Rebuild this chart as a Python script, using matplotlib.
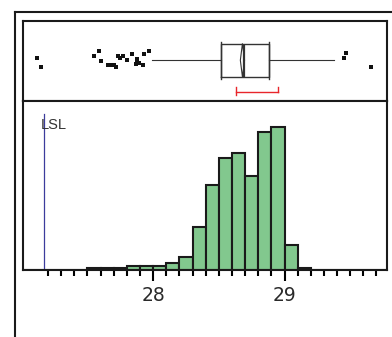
import numpy as np
import matplotlib
matplotlib.use("Agg")
import matplotlib.pyplot as plt
from matplotlib.lines import Line2D

# histogram bins (left edges, width 0.1) and counts
bin_left = [27.0, 27.1, 27.2, 27.3, 27.4, 27.5, 27.6, 27.7, 27.8, 27.9,
            28.0, 28.1, 28.2, 28.3, 28.4, 28.5, 28.6, 28.7, 28.8, 28.9,
            29.0, 29.1, 29.2, 29.3, 29.4, 29.5, 29.6, 29.7]
counts = [0, 1, 0, 0, 1, 4, 4, 4, 8, 8,
          8, 15, 26, 87, 170, 225, 235, 188, 277, 287,
          51, 5, 0, 1, 1, 0, 1, 0]
bin_w = 0.1

# box plot summary
q1, med, q3 = 28.52, 28.69, 28.88
whis_lo, whis_hi = 27.99, 29.38
mean, mean_ci = 28.68, 0.016
short_half = (28.63, 28.95)
lsl = 27.17

# outliers and their vertical jitter
outliers = [27.12, 27.15, 27.55, 27.59, 27.60, 27.66, 27.68, 27.70, 27.72, 27.73,
            27.75, 27.77, 27.80, 27.84, 27.87, 27.88, 27.88, 27.89, 27.92, 27.93,
            27.97, 29.45, 29.47, 29.66]
jitter = [0.542, 0.429, 0.562, 0.629, 0.496, 0.454, 0.454, 0.454, 0.429, 0.562,
          0.533, 0.562, 0.517, 0.588, 0.458, 0.521, 0.488, 0.471, 0.45, 0.588,
          0.629, 0.538, 0.604, 0.429]

major_ticks = [28, 29]
tick_labels = ["28", "29"]

W, H = 392, 337
fig = plt.figure(figsize=(W / 100, H / 100), dpi=100)

x0, x1 = 23, 387
ax_box = fig.add_axes([x0 / W, (H - 101) / H, (x1 - x0) / W, 80 / H])
ax_h = fig.add_axes([x0 / W, (H - 270) / H, (x1 - x0) / W, 169 / H])

xlim = (27.01, 29.78)
green = "#82C88E"

# histogram
ax_h.bar(bin_left, counts, width=bin_w, align="edge", color=green,
         edgecolor="#1a1a1a", linewidth=1.5)
ax_h.set_xlim(*xlim)
ax_h.set_ylim(0, 338)
ax_h.set_yticks([])
ax_h.axvline(lsl, ymin=0, ymax=0.923, color="#3c3c9c", lw=0.9)
ax_h.text(lsl - 0.025, 290, "LSL", fontsize=10.5, color="#333333",
          family=["Liberation Sans", "DejaVu Sans"], va="center", ha="left")

ax_h.set_xticks(major_ticks)
ax_h.set_xticklabels(tick_labels, family=["Liberation Sans Narrow", "DejaVu Sans"],
                     fontsize=13.5, color="#2a2a2a")
ax_h.set_xticks(np.arange(27.2, 29.75, 0.1), minor=True)
ax_h.tick_params(axis="x", which="major", length=8, width=1.5, pad=3.5)
ax_h.tick_params(axis="x", which="minor", length=4.5, width=1.5)
for s in ax_h.spines.values():
    s.set_linewidth(1.5)
    s.set_color("#1a1a1a")

# box plot
stats = [dict(med=med, q1=q1, q3=q3, whislo=whis_lo, whishi=whis_hi, fliers=[])]
ax_box.bxp(stats, positions=[0.51], widths=0.41, vert=False, showfliers=False,
           showcaps=False,
           boxprops=dict(color="#333333", lw=1.0),
           medianprops=dict(color="#333333", lw=1.6),
           whiskerprops=dict(color="#333333", lw=0.8))
for qx in (q1, q3):
    ax_box.plot([qx, qx], [0.28, 0.74], color="#333333", lw=1.0)
ax_box.fill([mean - mean_ci, mean, mean + mean_ci, mean, mean - mean_ci],
            [0.51, 0.72, 0.51, 0.30, 0.51], facecolor="none",
            edgecolor="#333333", lw=0.8)
ax_box.scatter(outliers, jitter, s=5, marker="s", color="#111111", lw=0)
ax_box.plot([short_half[0], short_half[1]], [0.11, 0.11], color="#e8262b", lw=1.0)
ax_box.plot([short_half[0], short_half[0]], [0.08, 0.18], color="#e8262b", lw=1.0)
ax_box.plot([short_half[1], short_half[1]], [0.11, 0.18], color="#e8262b", lw=1.0)
ax_box.set_xlim(*xlim)
ax_box.set_ylim(0, 1)
ax_box.set_xticks([])
ax_box.set_yticks([])
for s in ax_box.spines.values():
    s.set_linewidth(1.5)
    s.set_color("#1a1a1a")

# outer frame
fig.add_artist(Line2D([15 / W, 15 / W], [0, (H - 12) / H], color="#1a1a1a", lw=1.5,
                      transform=fig.transFigure))
fig.add_artist(Line2D([15 / W, 1], [(H - 12) / H, (H - 12) / H], color="#1a1a1a", lw=1.5,
                      transform=fig.transFigure))

fig.savefig("out.png", dpi=100)
